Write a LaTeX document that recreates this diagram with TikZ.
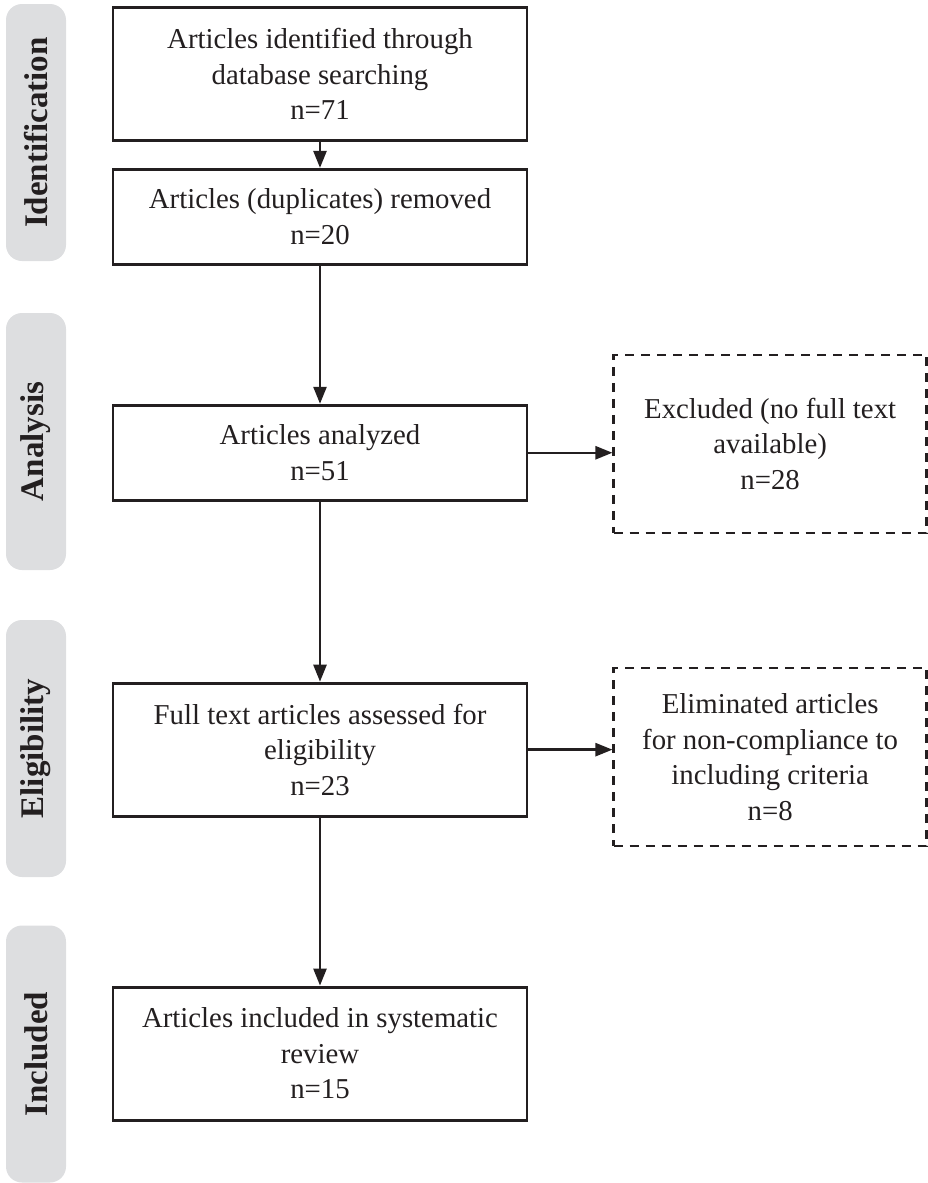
\documentclass[tikz,border=0pt]{standalone}
\usepackage{fontspec}
\setmainfont{Liberation Serif}
\usepackage{xcolor}
\usepackage{tikz}
\usetikzlibrary{arrows.meta,positioning}
\definecolor{bargray}{RGB}{221,222,224}
\definecolor{inkgray}{RGB}{35,31,32}

\begin{document}
\begin{tikzpicture}[
    x=0.5pt, y=-0.5pt,
    stage/.style={rectangle, draw=inkgray, line width=1.45pt, fill=white,
                  minimum width=207pt, minimum height=#1, align=center,
                  font=\fontsize{14.4}{17.75}\selectfont, text=inkgray},
    stage/.default=47.5pt,
    outbox/.style={rectangle, draw=inkgray, line width=1.2pt, dash pattern=on 4.5pt off 3.5pt,
                   minimum width=156.5pt, minimum height=89pt, align=center,
                   font=\fontsize{14.4}{17.75}\selectfont, text=inkgray},
    phase/.style={rectangle, rounded corners=8pt, fill=bargray, rotate=90,
                  minimum width=128.5pt, minimum height=30pt,
                  font=\fontsize{16.5}{19}\selectfont\bfseries, text=inkgray},
    arrow/.style={-{Triangle[length=8.5pt,width=6.5pt]}, line width=1.25pt, draw=inkgray}
]
\useasboundingbox (0,0) rectangle (927,1183);

% phase bars on the left
\node[phase] (p1) at (36,132.5) {Identification};
\node[phase] (p2) at (36,441.5) {Analysis};
\node[phase] (p3) at (36,748.5) {Eligibility};
\node[phase] (p4) at (36,1054) {Included};

% main column
\node[stage=66.5pt, anchor=north] (s1) at (320,6) {Articles identified through\\database searching\\n=71};
\node[stage, below=13pt of s1] (s2) {Articles (duplicates) removed\\n=20};
\node[stage, below=69pt of s2] (s3) {Articles analyzed\\n=51};
\node[stage=66.5pt, below=90pt of s3] (s4) {Full text articles assessed for\\eligibility\\n=23};
\node[stage=66.5pt, below=84pt of s4] (s5) {Articles included in systematic\\review\\n=15};

% excluded records
\node[outbox, right=42pt of s3, yshift=4.5pt] (x1) {Excluded (no full text\\available)\\n=28};
\node[outbox, right=42pt of s4, yshift=-3.75pt] (x2) {Eliminated articles\\for non-compliance to\\including criteria\\n=8};

\draw[arrow] (s1) -- (s2);
\draw[arrow] (s2) -- (s3);
\draw[arrow] (s3) -- (s4);
\draw[arrow] (s4) -- (s5);
\draw[arrow] (s3.east) -- (s3.east -| x1.west);
\draw[arrow] (s4.east) -- (s4.east -| x2.west);
\end{tikzpicture}
\end{document}
